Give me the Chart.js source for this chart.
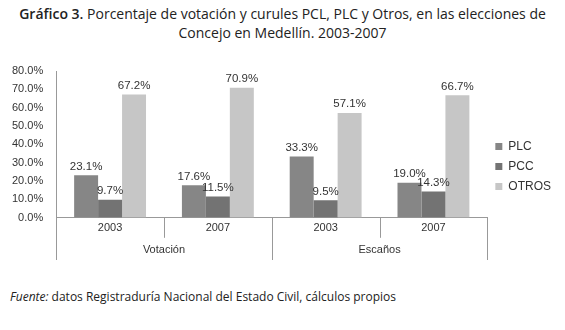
<!DOCTYPE html>
<html>
<head>
<meta charset="utf-8">
<script src="https://cdn.jsdelivr.net/npm/chart.js@4"></script>
<style>
  body { margin: 0; background: #fff; width: 565px; height: 330px; position: relative; overflow: hidden; }
  .title { position: absolute; top: 4px; left: 0; width: 565px; text-align: center; font-family: "Open Sans", sans-serif; font-size: 14px; line-height: 19px; color: #222; }
  .title b { font-weight: 600; }
  .wrap { position: absolute; top: 55px; left: 0; width: 565px; height: 207px; }
  .source { position: absolute; top: 288px; left: 10px; font-family: "Open Sans", sans-serif; font-size: 12px; color: #222; }
</style>
</head>
<body>
<div class="title"><b>Gráfico 3.</b> Porcentaje de votación y curules PCL, PLC y Otros, en las elecciones de<br>Concejo en Medellín. 2003-2007</div>
<div class="wrap"><canvas id="chart"></canvas></div>
<div class="source"><i>Fuente:</i> datos Registraduría Nacional del Estado Civil, cálculos propios</div>
<script>
const years = ['2003', '2007', '2003', '2007'];
const groups = ['Votación', 'Escaños'];
const plc = [23.1, 17.6, 33.3, 19.0];
const pcc = [9.7, 11.5, 9.5, 14.3];
const otros = [67.2, 70.9, 57.1, 66.7];

const axisFont = { family: 'Liberation Sans, Arial, sans-serif', size: 11 };

// value labels above each bar
const valueLabels = {
    id: 'valueLabels',
    afterDatasetsDraw(chart) {
        const ctx = chart.ctx;
        ctx.save();
        ctx.font = '11.5px Liberation Sans, Arial, sans-serif';
        ctx.fillStyle = '#333';
        ctx.textAlign = 'center';
        ctx.textBaseline = 'bottom';
        chart.data.datasets.forEach((ds, i) => {
            chart.getDatasetMeta(i).data.forEach((bar, j) => {
                ctx.fillText(ds.data[j].toFixed(1) + '%', bar.x, bar.y - 3);
            });
        });
        ctx.restore();
    }
};

// excel-style dividers between the category labels (short) and groups (long)
const dividers = {
    id: 'dividers',
    afterDraw(chart) {
        const x = chart.scales.x, x2 = chart.scales.x2;
        const ctx = chart.ctx;
        const top = chart.chartArea.bottom;
        const n = years.length;
        ctx.save();
        ctx.strokeStyle = '#999';
        ctx.lineWidth = 1;
        for (let i = 0; i <= n; i++) {
            let px;
            if (i === 0) px = chart.chartArea.left;
            else if (i === n) px = chart.chartArea.right;
            else px = (x.getPixelForTick(i - 1) + x.getPixelForTick(i)) / 2;
            const outer = i % (n / groups.length) === 0;
            const bottom = outer ? x2.bottom - 2 : x.bottom;
            px = Math.round(px) + 0.5;
            ctx.beginPath();
            ctx.moveTo(px, top);
            ctx.lineTo(px, bottom);
            ctx.stroke();
        }
        ctx.restore();
    }
};

new Chart(document.getElementById('chart'), {
    type: 'bar',
    data: {
        labels: years,
        datasets: [
            { label: 'PLC', data: plc, backgroundColor: '#868686' },
            { label: 'PCC', data: pcc, backgroundColor: '#737373' },
            { label: 'OTROS', data: otros, backgroundColor: '#c6c6c6' }
        ]
    },
    options: {
        responsive: true,
        maintainAspectRatio: false,
        animation: false,
        layout: { padding: { top: 16, right: 4, left: 7, bottom: 0 } },
        datasets: {
            bar: { categoryPercentage: 0.667, barPercentage: 1 }
        },
        scales: {
            y: {
                min: 0,
                max: 80,
                ticks: {
                    stepSize: 10,
                    color: '#333',
                    font: axisFont,
                    padding: 5,
                    callback: v => v.toFixed(1) + '%'
                },
                grid: { display: false },
                border: { color: '#999' }
            },
            x: {
                ticks: { color: '#333', font: axisFont, padding: 3.5 },
                grid: { drawOnChartArea: false, drawTicks: false },
                border: { color: '#999' }
            },
            x2: {
                type: 'category',
                labels: groups,
                position: 'bottom',
                ticks: { color: '#333', font: axisFont, padding: 5.5 },
                grid: { drawOnChartArea: false, drawTicks: false },
                border: { display: false }
            }
        },
        plugins: {
            legend: {
                position: 'right',
                labels: {
                    boxWidth: 7,
                    boxHeight: 7,
                    color: '#333',
                    font: { family: 'Liberation Sans, Arial, sans-serif', size: 12 },
                    padding: 8
                }
            },
            tooltip: { enabled: false }
        }
    },
    plugins: [valueLabels, dividers]
});
</script>
</body>
</html>
